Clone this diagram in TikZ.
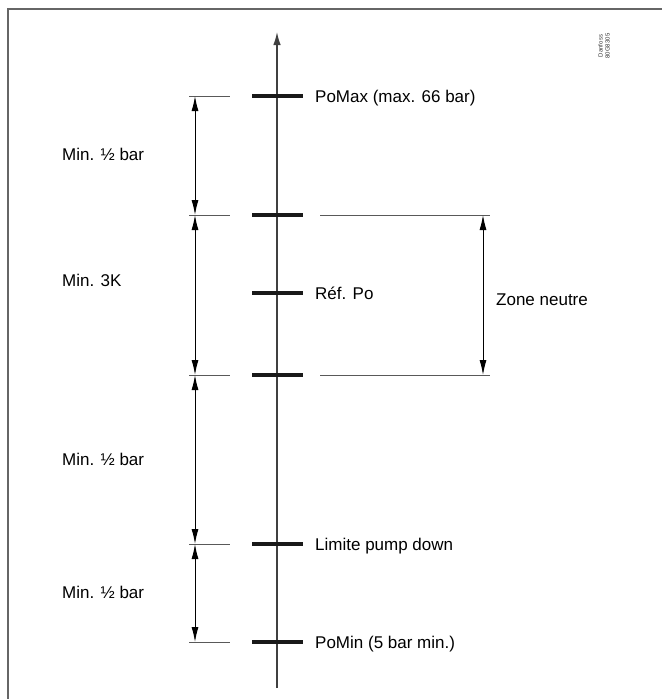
\documentclass[tikz,border=0pt]{standalone}
\usepackage{fontspec}
\setmainfont{Liberation Sans}
\usetikzlibrary{arrows.meta}
\begin{document}
\begin{tikzpicture}[x=1pt,y=-1pt,
  lbl/.style={anchor=west,inner sep=0pt,text height=12.2pt,text depth=0pt,font=\fontsize{17}{20}\selectfont},
  tickbar/.style={line width=4.2pt,black!90},
  ext/.style={line width=1pt,black!65},
  dim/.style={line width=1pt,black,{Latex[length=15pt,width=7pt]}-{Latex[length=15pt,width=7pt]}},
  axisline/.style={line width=1.3pt,black!75,-{Latex[length=13pt,width=7.5pt]}}]
\useasboundingbox (0,0) rectangle (662,699);
% frame (top and left only visible)
\draw[line width=1.6pt,black!60] (8,699) -- (8,9) -- (662,9);
% axis
\coordinate (ab) at (277,688);
\coordinate (at) at (277,32);
\draw[axisline] (ab) -- (at);
% tick positions
\foreach \n/\y in {pmax/96,pz1/215,pref/293,pz2/375,plim/544,pmin/642}{
  \coordinate (\n L) at (252,\y);
  \coordinate (\n R) at (303,\y);
  \coordinate (\n e1) at (189,\y);
  \coordinate (\n e2) at (230,\y);
  \coordinate (\n d) at (195,\y);
  \draw[tickbar] (\n L) -- (\n R);
}
\foreach \n in {pmax,pz1,pz2,plim,pmin}{\draw[ext] (\n e1) -- (\n e2);}
% right extension lines
\coordinate (r1a) at (320,215); \coordinate (r1b) at (490,215);
\coordinate (r2a) at (320,375); \coordinate (r2b) at (490,375);
\coordinate (r1d) at (483,215); \coordinate (r2d) at (483,375);
\draw[ext] (r1a) -- (r1b);
\draw[ext] (r2a) -- (r2b);
% dimension arrows
\draw[dim] (pmaxd) -- (pz1d);
\draw[dim] (pz1d) -- (pz2d);
\draw[dim] (pz2d) -- (plimd);
\draw[dim] (plimd) -- (pmind);
\draw[dim] (r1d) -- (r2d);
% labels
\node[lbl] (tmax) at (315,96) {PoMax (max. 66 bar)};
\node[lbl] (tref) at (315,293) {Réf. Po};
\node[lbl] (tlim) at (315,544) {Limite pump down};
\node[lbl] (tmin) at (315,642) {PoMin (5 bar min.)};
\node[lbl] (tzone) at (496,299) {Zone neutre};
\node[lbl] (m1) at (62,154) {Min. ½ bar};
\node[lbl] (m2) at (62,280) {Min. 3K};
\node[lbl] (m3) at (62,459) {Min. ½ bar};
\node[lbl] (m4) at (62,592) {Min. ½ bar};
% reference code
\node[rotate=90,align=center,inner sep=0pt,font=\fontsize{6}{7}\selectfont,black!80] (ref) at (604,46) {Danfoss\\80G8305};
\end{tikzpicture}
\end{document}
